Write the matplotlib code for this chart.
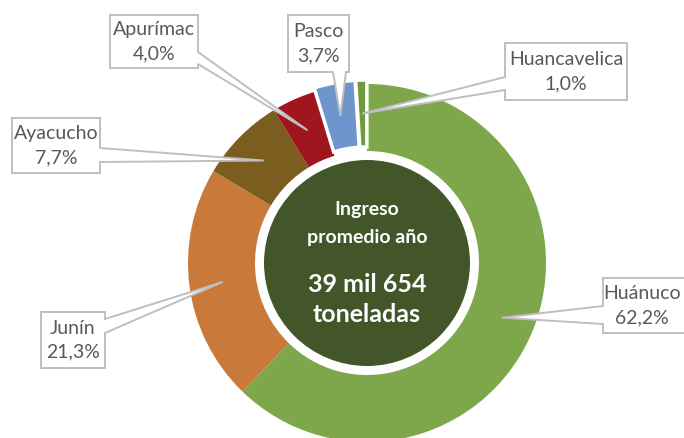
import matplotlib
matplotlib.use("Agg")
import matplotlib.pyplot as plt
from matplotlib.patches import Polygon, Circle
import numpy as np

# ---------------- data ----------------
regions = ["Huánuco", "Junín", "Ayacucho", "Apurímac", "Pasco", "Huancavelica"]
shares = [62.2, 21.3, 7.7, 4.0, 3.7, 1.0]
pct_labels = ["62,2%", "21,3%", "7,7%", "4,0%", "3,7%", "1,0%"]
colors = ["#7EA64B", "#C97A3B", "#7C5D20", "#A1151F", "#6E96CD", "#6E9B3E"]
center_title = ["Ingreso", "promedio año"]
center_value = ["39 mil 654", "toneladas"]

# ---------------- layout (image pixel coords, y downward) ----------------
W, H = 684, 438
CX, CY = 367, 263
R_OUT, RING_W, R_IN_DISK = 179, 67, 103
explode = [0, 0, 0, 0, 4, 4]

# callout boxes: (x0, y0, x1, y1), side of notch, notch range
boxes = {
    "Huánuco":      ((603, 278, 692, 333), "left",   (306, 324)),
    "Junín":        ((41, 312, 105, 368),  "right",  (319, 333)),
    "Ayacucho":     ((12, 118, 100, 173),  "right",  (148, 162)),
    "Apurímac":     ((110, 15, 198, 68),   "right",  (52, 64)),
    "Pasco":        ((288, 15, 349, 72),   "bottom", (333, 346)),
    "Huancavelica": ((505, 43, 627, 100),  "left",   (77, 90)),
}
text_x = {"Huánuco": 642}

FONT = ["Lato", "DejaVu Sans"]
LABEL_COLOR = "#595959"
EDGE = "#BFBFBF"


def yd(y):
    return H - y


fig = plt.figure(figsize=(W / 100, H / 100), dpi=100)
ax = fig.add_axes([0, 0, 1, 1])

wedges, _ = ax.pie(
    shares, colors=colors, startangle=90, counterclock=False,
    radius=R_OUT, center=(CX, yd(CY)), explode=explode, normalize=True,
    wedgeprops=dict(width=RING_W, edgecolor="white", linewidth=0),
)
for w, e in zip(wedges, explode):
    if e:
        w.set_linewidth(2.5)
        w.set_edgecolor("white")

ax.set_xlim(0, W)
ax.set_ylim(0, H)
ax.set_aspect("auto")
ax.axis("off")

# center disk
ax.add_patch(Circle((CX, yd(CY)), R_IN_DISK, facecolor="#43562A",
                    edgecolor="none", zorder=3))
ax.text(CX, yd(210), center_title[0], ha="center", va="center", color="white",
        fontsize=14, fontweight="bold", family=FONT, zorder=4)
ax.text(CX, yd(237), center_title[1], ha="center", va="center", color="white",
        fontsize=14, fontweight="bold", family=FONT, zorder=4)
ax.text(CX, yd(284), center_value[0], ha="center", va="center", color="white",
        fontsize=18, fontweight="bold", family=FONT, zorder=4)
ax.text(CX, yd(315), center_value[1], ha="center", va="center", color="white",
        fontsize=18, fontweight="bold", family=FONT, zorder=4)

# callouts
total = sum(shares)
cum = 0.0
r_mid = R_OUT - RING_W / 2
for name, s, pct, e in zip(regions, shares, pct_labels, explode):
    ang = np.deg2rad(90 - 360 * (cum + s / 2) / total)
    cum += s
    tx = CX + (r_mid + e) * np.cos(ang)
    ty = CY - (r_mid + e) * np.sin(ang)
    (x0, y0, x1, y1), side, (a, b) = boxes[name]
    tip = (tx, ty)
    if side == "top":
        pts = [(x0, y0), (a, y0), tip, (b, y0), (x1, y0), (x1, y1), (x0, y1)]
    elif side == "right":
        pts = [(x0, y0), (x1, y0), (x1, a), tip, (x1, b), (x1, y1), (x0, y1)]
    elif side == "bottom":
        pts = [(x0, y0), (x1, y0), (x1, y1), (b, y1), tip, (a, y1), (x0, y1)]
    else:
        pts = [(x0, y0), (x1, y0), (x1, y1), (x0, y1), (x0, b), tip, (x0, a)]
    pts = [(px, yd(py)) for px, py in pts]
    ax.add_patch(Polygon(pts, closed=True, facecolor="white", edgecolor=EDGE,
                         linewidth=1.4, joinstyle="miter", zorder=5))
    bx = text_x.get(name, (x0 + x1) / 2)
    by = (y0 + y1) / 2
    ax.text(bx, yd(by - 12), name, ha="center", va="center", color=LABEL_COLOR,
            fontsize=14, family=FONT, zorder=6)
    ax.text(bx, yd(by + 12), pct, ha="center", va="center", color=LABEL_COLOR,
            fontsize=14, family=FONT, zorder=6)

fig.savefig("out.png", dpi=100, facecolor="white")
